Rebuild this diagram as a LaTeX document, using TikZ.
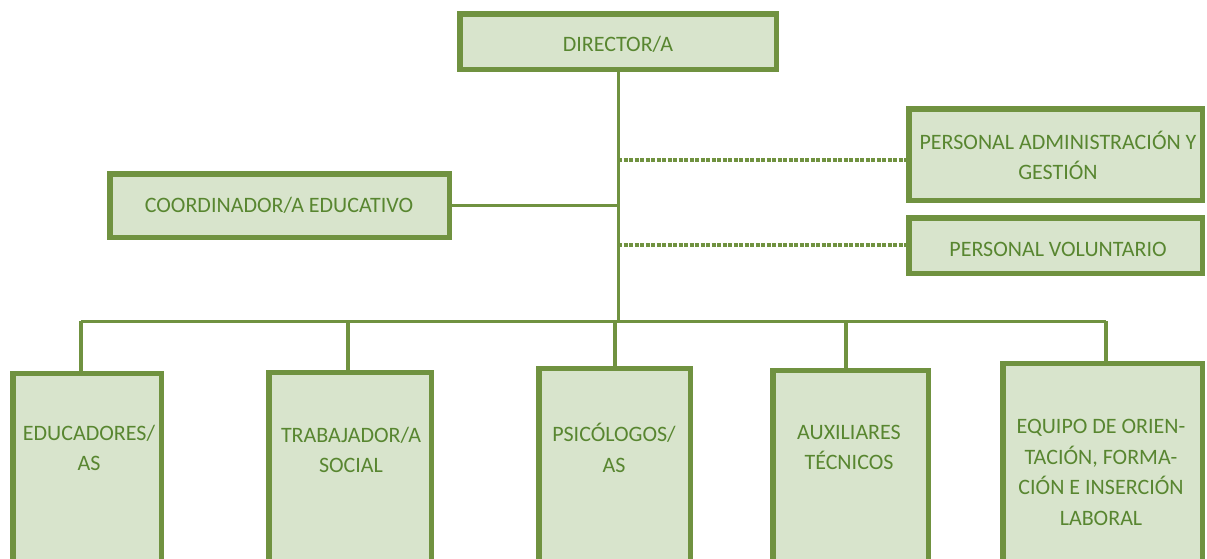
\documentclass[tikz,border=0pt]{standalone}
\usepackage{fontspec}
\setmainfont{Carlito}
\definecolor{bord}{RGB}{112,146,64}
\definecolor{boxfill}{RGB}{216,228,204}
\definecolor{txtc}{RGB}{88,134,48}
\begin{document}
\begin{tikzpicture}[x=1pt,y=-1pt,
  box/.style={draw=bord, fill=boxfill, line width=5.5pt, inner sep=0pt, outer sep=0pt},
  lbl/.style={text=txtc, font=\fontsize{22}{30.5}\selectfont, align=center, inner sep=0pt},
  conn/.style={draw=bord, line width=3pt},
  drop/.style={draw=bord, line width=4pt},
  dotline/.style={draw=bord, line width=4pt, dash pattern=on 4pt off 1.5pt}]
\useasboundingbox (0,0) rectangle (1207,558);
\clip (0,0) rectangle (1207,558);
% boxes
\node[box, minimum width=316.5pt, minimum height=55.5pt] (dir) at (618,41.5) {};
\node[box, minimum width=293.5pt, minimum height=91.5pt] (adm) at (1055.5,154.5) {};
\node[box, minimum width=293.5pt, minimum height=55.5pt] (vol) at (1055.5,245.5) {};
\node[box, minimum width=339.5pt, minimum height=63.5pt] (coo) at (279.5,205.5) {};
\node[box, minimum width=148.5pt, minimum height=240pt] (edu) at (87,493.5) {};
\node[box, minimum width=162.5pt, minimum height=240pt] (tra) at (350,492.5) {};
\node[box, minimum width=151.5pt, minimum height=240pt] (psi) at (614.5,488.5) {};
\node[box, minimum width=155.5pt, minimum height=240pt] (aux) at (850.5,490.5) {};
\node[box, minimum width=199.5pt, minimum height=240pt] (equ) at (1102.5,483.5) {};
% labels
\node[lbl] (tdir) at (618,44) {DIRECTOR/A};
\node[lbl] (tadm) at (1058,155.5) {PERSONAL ADMINISTRACIÓN Y\\GESTIÓN};
\node[lbl] (tvol) at (1058,249) {PERSONAL VOLUNTARIO};
\node[lbl] (tcoo) at (279,205) {COORDINADOR/A EDUCATIVO};
\node[lbl] (tedu) at (89,448) {EDUCADORES/\\AS};
\node[lbl] (ttra) at (351,450) {TRABAJADOR/A\\SOCIAL};
\node[lbl] (tpsi) at (614,448) {PSICÓLOGOS/\\AS};
\node[lbl] (taux) at (849,447.5) {AUXILIARES\\TÉCNICOS};
\node[lbl] (tequ) at (1101,472.5) {EQUIPO DE ORIEN-\\TACIÓN, FORMA-\\CIÓN E INSERCIÓN\\LABORAL};
% connector coordinates
\coordinate (busL) at (81,321);
\coordinate (busR) at (1106,321);
\coordinate (spine) at (618,321);
\coordinate (d2) at (348,321);
\coordinate (d3) at (615,321);
\coordinate (d4) at (846,321);
\coordinate (h1) at (0,160);
\coordinate (h2) at (0,245);
% connectors
\draw[conn] (dir.south) -- (spine);
\draw[conn] (busL) -- (busR);
\draw[conn] (coo.east) -- (coo.east -| dir.south);
\draw[dotline] (dir.south |- h1) -- (adm.west |- h1);
\draw[dotline] (dir.south |- h2) -- (vol.west |- h2);
\draw[drop] (busL) -- (busL |- edu.north);
\draw[drop] (d2) -- (d2 |- tra.north);
\draw[drop] (d3) -- (d3 |- psi.north);
\draw[drop] (d4) -- (d4 |- aux.north);
\draw[drop] (busR) -- (busR |- equ.north);
\end{tikzpicture}
\end{document}
